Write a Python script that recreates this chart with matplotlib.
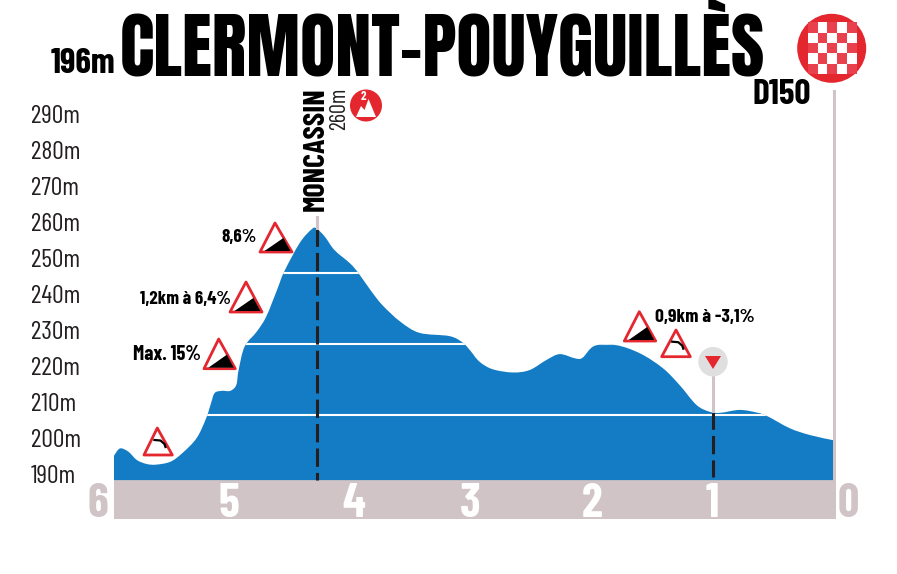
import matplotlib
matplotlib.use('Agg')
import matplotlib.pyplot as plt
from matplotlib.patches import Polygon, Circle, Rectangle, PathPatch
from matplotlib.path import Path
from matplotlib.transforms import Affine2D

# profile
km = [6.00, 5.95, 5.88, 5.81, 5.73, 5.65, 5.53, 5.43, 5.31, 5.23, 5.19, 5.16, 5.10, 5.03, 4.98,
      4.96, 4.91, 4.81, 4.73, 4.64, 4.58, 4.45, 4.35, 4.31, 4.24, 4.16, 4.03, 3.96, 3.86, 3.76,
      3.61, 3.45, 3.20, 3.09, 3.03, 2.95, 2.84, 2.67, 2.53, 2.39, 2.28, 2.15, 2.09, 1.99, 1.81,
      1.61, 1.42, 1.28, 1.14, 1.03, 0.94, 0.78, 0.64, 0.55, 0.36, 0.19, 0.00]
elevation = [195.1, 197.1, 196.2, 193.9, 192.8, 192.6, 193.4, 195.8, 200.0, 205.6, 209.7, 212.5, 213.1, 213.1, 214.7,
             218.9, 225.4, 229.5, 233.7, 241.1, 246.2, 254.2, 258.0, 258.2, 255.9, 252.2, 248.5, 245.8, 241.1, 236.9,
             232.3, 229.2, 228.3, 226.5, 224.4, 221.2, 219.1, 218.2, 218.9, 221.7, 223.3, 222.1, 222.3, 225.6, 225.8,
             223.5, 219.4, 214.7, 209.2, 207.3, 207.0, 207.8, 207.1, 206.1, 202.7, 200.8, 199.4]
y_ticks = [190, 200, 210, 220, 230, 240, 250, 260, 270, 280, 290]
km_ticks = [6, 5, 4, 3, 2, 1, 0]
km_label_shift = [-6, -5, 0, -3, -1, -1, 5]  # px, labels sit a little off their tick
white_levels = [245.7, 226.1, 206.4]
base_level = 188.3

NARROW = ['Barlow Condensed', 'DejaVu Sans']
HEAVY = ['Anton', 'Barlow Condensed', 'DejaVu Sans']
BLUE = '#137cc4'
GREY = '#d1c4c6'
RED = '#e4262e'
INK = '#231f20'

fig = plt.figure(figsize=(8.97, 5.74), dpi=100)
ax = fig.add_axes([114 / 897, 1 - 519 / 574, 722 / 897, 429 / 574])
ax.set_xlim(6.0, -0.025)
ax.set_ylim(177.5, 296.67)
for s in ax.spines.values():
    s.set_visible(False)

# pixel coordinates for the pictograms
px = Affine2D().scale(1 / 897, -1 / 574).translate(0, 1) + fig.transFigure


# smooth outline through the profile points
def profile_path(xs, ys):
    verts = [(xs[0], base_level), (xs[0], ys[0])]
    codes = [Path.MOVETO, Path.LINETO]
    n = len(xs)
    for i in range(n - 1):
        a, b = max(i - 1, 0), min(i + 2, n - 1)
        verts.append((xs[i] + (xs[i + 1] - xs[a]) / 6, ys[i] + (ys[i + 1] - ys[a]) / 6))
        verts.append((xs[i + 1] - (xs[b] - xs[i]) / 6, ys[i + 1] - (ys[b] - ys[i]) / 6))
        verts.append((xs[i + 1], ys[i + 1]))
        codes += [Path.CURVE4] * 3
    verts += [(xs[-1], base_level), (xs[0], base_level)]
    codes += [Path.LINETO, Path.CLOSEPOLY]
    return Path(verts, codes)


ax.axhspan(177.5, base_level, color=GREY, lw=0)
ax.axvline(-0.012, color=GREY, lw=2.2, zorder=1)
profile = PathPatch(profile_path(km, elevation), fc=BLUE, lw=0, zorder=2)
ax.add_patch(profile)
for level in white_levels:
    line = ax.axhline(level, color='white', lw=1.5, zorder=3)
    line.set_clip_path(profile)

# climb and sprint markers
ax.plot([4.31, 4.31], [258.2, base_level], color=INK, lw=2.2, ls=(0, (6, 2)), dash_capstyle='butt', zorder=4)
ax.plot([4.31, 4.31], [258.2, 261.5], color=GREY, lw=2.2, zorder=4)
ax.plot([1.0, 1.0], [207.4, 189.3], color=INK, lw=2.2, ls=(0, (6, 2)), dash_capstyle='butt', zorder=4)
ax.plot([1.0, 1.0], [207.4, 221], color=GREY, lw=2.2, zorder=4)

ax.set_yticks(y_ticks, [f'{v}m' for v in y_ticks])
ax.tick_params(axis='y', length=0, pad=59.8, labelsize=18.5, labelcolor=INK)
for t in ax.get_yticklabels():
    t.set_fontfamily(NARROW)
    t.set_ha('left')
ax.set_xticks(km_ticks, [str(v) for v in km_ticks])
ax.tick_params(axis='x', length=0, pad=-26, labelsize=34, labelcolor='white')
for t, k, dx in zip(ax.get_xticklabels(), km_ticks, km_label_shift):
    t.set_fontfamily(NARROW)
    t.set_fontweight('bold')
    t.set_transform(t.get_transform() + Affine2D().translate(dx, 0))
    if k in (6, 0):
        t.set_color(GREY)
        t.set_ha('right' if k == 6 else 'left')


def label(x, y, s, size, **kw):
    kw.setdefault('fontweight', 'bold')
    kw.setdefault('color', 'black')
    kw.setdefault('family', NARROW)
    fig.text(x, y, s, transform=px, fontsize=size, **kw)


def sign(apex, left, right, wedge=True):
    fig.add_artist(Polygon([apex, left, right], closed=True, transform=px, fc='white', ec=RED, lw=2, joinstyle='round'))
    if wedge:
        w = right[0] - left[0]
        fig.add_artist(Polygon([(left[0] + 0.14 * w, left[1] - 1), (right[0] - 0.27 * w, left[1] - 14),
                                (right[0] - 0.05 * w, left[1] - 1)], closed=True, transform=px, fc='black', lw=0))
    else:
        x0, y0 = left[0] + 0.37 * (right[0] - left[0]), left[1] - 15
        fig.add_artist(plt.Line2D([x0, x0 + 6, x0 + 10, x0 + 11], [y0, y0 + 0.5, y0 + 4, y0 + 7],
                                  transform=px, color='black', lw=1.6))


label(120, 75, 'CLERMONT-POUYGUILLÈS', 52, ha='left', va='baseline', fontweight='normal', family=HEAVY)
label(51, 73, '196m', 25.5, ha='left', va='baseline')
label(753, 104, 'D150', 25.5, ha='left', va='baseline')
label(324, 211, 'MONCASSIN', 21.6, ha='left', va='baseline', rotation=90, rotation_mode='anchor')
label(345, 130, '260m', 16, ha='left', va='baseline', rotation=90, rotation_mode='anchor', fontweight='normal', color=INK)
label(257, 237, '8,6%', 13.6, ha='right', va='center')
label(231, 299, '1,2km à 6,4%', 13.6, ha='right', va='center')
label(201, 355, 'Max. 15%', 14.6, ha='right', va='center')
label(655, 318, '0,9km à -3,1%', 14, ha='left', va='center')

sign((275, 223), (260, 252), (292, 252))
sign((246, 282), (230, 312), (262, 312))
sign((218.7, 339), (204, 368.7), (235.3, 368.7))
sign((639.3, 311.7), (624.3, 341), (655.7, 341))
sign((157.3, 428), (144, 455), (172.3, 455), wedge=False)
sign((676, 330), (661.7, 356.7), (690.3, 356.7), wedge=False)

# sprint badge
fig.add_artist(Circle((713, 361.7), 14.7, transform=px, fc='#e0dfdf', lw=0))
fig.add_artist(Polygon([(705, 356), (721, 356), (713, 369)], transform=px, fc=RED, lw=0))

# col badge
fig.add_artist(Circle((366, 105.5), 16, transform=px, fc=RED, lw=0))
fig.add_artist(Polygon([(356, 117), (361, 106), (364.5, 110), (368.5, 99), (376, 117)], transform=px, fc='white', lw=0))
label(363, 100, '2', 9, ha='center', va='baseline', color='white')

# finish badge
fig.add_artist(Circle((831.7, 48.3), 34.5, transform=px, fc=RED, lw=0))
cw, ch = 9.8, 10.3
for row in range(5):
    for col in range(5):
        white = (row + col) % 2 == 1
        fig.add_artist(Rectangle((807.7 + col * cw, 22.3 + row * ch), cw, ch, transform=px, lw=0,
                                 fc='white' if white else '#e8414d'))

fig.savefig('out.png', dpi=100)
